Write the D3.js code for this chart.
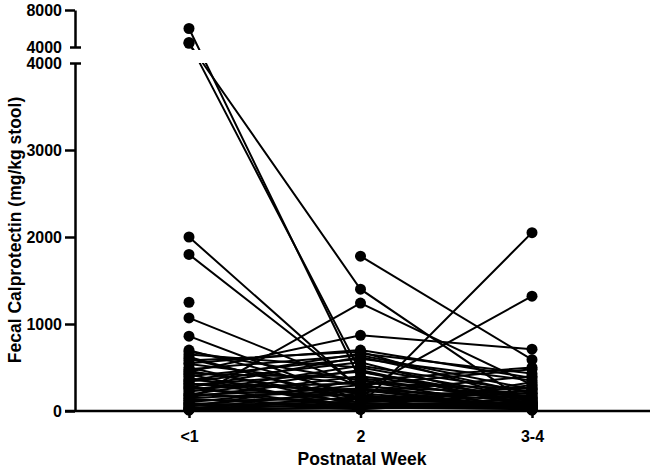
<!DOCTYPE html>
<html>
<head>
<meta charset="utf-8">
<script src="https://cdn.jsdelivr.net/npm/d3@7"></script>
<style>
  html, body { margin: 0; padding: 0; background: #fff; }
  svg text { font-family: Arial, "Liberation Sans", sans-serif; font-weight: bold; fill: #000; }
</style>
</head>
<body>
<svg id="chart" width="653" height="468"></svg>
<script>
// ---- data ----
const weeks = ["<1", "2", "3-4"];
// one value per subject at each week (mg/kg stool); null = not sampled
const week1 = [6000, 4500, 4400, 2000, 1800, 1250, 1070, 860, 700, null, 125, 450, 80, 150,
  650, 620, 580, 540, 500, 480, 460, 430, 400, 380, 360, 340, 320, 300, 280, 260, 240, 220,
  200, 180, 160, 140, 120, 100, 90, 75, 60, 50, 40, 30, 25, 20, 15, 10, 680, 550, 350, 270,
  600, 420, 190, 310];
const week2 = [350, 450, 1400, 250, 260, null, 280, 120, 180, 1780, 1240, 870, 70, 230,
  500, 90, 680, 300, 60, 640, 150, 380, 600, 40, 210, 560, 100, 450, 30, 320, 170, 520,
  80, 260, 400, 50, 140, 300, 20, 200, 110, 350, 60, 160, 30, 250, 90, 40, 350, 700, 660, 620,
  130, 20, 470, 240];
const week34 = [120, 80, 60, 150, 100, null, 200, 90, 60, 590, 300, 710, 2050, 1320,
  150, 40, 110, 480, 30, 250, 200, 90, 350, 20, 400, 60, 180, 130, 70, 260, 50, 220,
  100, 30, 160, 300, 80, 40, 120, 60, 240, 20, 90, 50, 150, 10, 70, 30, 500, 380, 430, 200,
  270, 330, 45, 15];
const lowerTicks = [0, 1000, 2000, 3000, 4000];
const upperTicks = [4000, 8000];
const yTitle = "Fecal Calprotectin (mg/kg stool)";
const xTitle = "Postnatal Week";

// ---- layout ----
const svg = d3.select("#chart");
const axisX = 75, baseY = 411;
const x = d3.scalePoint().domain(weeks).range([189, 532]);
const yLow = d3.scaleLinear().domain([0, 4000]).range([baseY, 63]);
const yHigh = d3.scaleLinear().domain([4000, 8000]).range([47, 10]);
const y = v => (v <= 4000 ? yLow(v) : yHigh(v));

const subjects = week1.map((v, i) => [week1[i], week2[i], week34[i]]);

// clip to hide the axis break band
const defs = svg.append("defs");
const cp = defs.append("clipPath").attr("id", "brk");
cp.append("rect").attr("x", 0).attr("y", 0).attr("width", 653).attr("height", yHigh(4000) + 3);
cp.append("rect").attr("x", 0).attr("y", yLow(4000)).attr("width", 653).attr("height", 468);

// ---- lines ----
const line = d3.line()
  .defined(d => d.v != null)
  .x(d => x(d.w))
  .y(d => y(d.v));

const g = svg.append("g").attr("clip-path", "url(#brk)");
g.selectAll("path.subj")
  .data(subjects)
  .join("path")
  .attr("class", "subj")
  .attr("fill", "none")
  .attr("stroke", "#000")
  .attr("stroke-width", 2)
  .attr("d", s => line(s.map((v, j) => ({ w: weeks[j], v }))));

// ---- points ----
const pts = [];
subjects.forEach(s => s.forEach((v, j) => { if (v != null) pts.push({ w: weeks[j], v }); }));
svg.append("g").selectAll("circle")
  .data(pts)
  .join("circle")
  .attr("cx", d => x(d.w))
  .attr("cy", d => y(d.v))
  .attr("r", 5.5)
  .attr("fill", "#000");

// ---- y axes (broken) ----
function styleAxis(sel) {
  sel.select(".domain").attr("stroke", "#000").attr("stroke-width", 2.5);
  sel.selectAll(".tick line").attr("stroke", "#000").attr("stroke-width", 2.5);
  sel.selectAll(".tick text").attr("font-size", 16).attr("fill", "#000")
    .style("font-family", "Arial, 'Liberation Sans', sans-serif").style("font-weight", "bold");
}
const gLow = svg.append("g").attr("transform", `translate(${axisX},0)`)
  .call(d3.axisLeft(yLow).tickValues(lowerTicks).tickSize(10).tickSizeOuter(0).tickPadding(3).tickFormat(d3.format("d")));
styleAxis(gLow);
const gHigh = svg.append("g").attr("transform", `translate(${axisX},0)`)
  .call(d3.axisLeft(yHigh).tickValues(upperTicks).tickSize(10).tickSizeOuter(0).tickPadding(3).tickFormat(d3.format("d")));
styleAxis(gHigh);
// break caps at 4000
[gLow, gHigh].forEach(ga => {
  ga.selectAll(".tick").filter(d => d === 4000).select("line").attr("x1", -5).attr("x2", 6);
});

// ---- x axis ----
const gx = svg.append("g").attr("transform", `translate(0,${baseY})`)
  .call(d3.axisBottom(x).tickSize(7).tickSizeOuter(0).tickPadding(13));
gx.select(".domain").attr("d", `M65,0H650`).attr("stroke", "#000").attr("stroke-width", 2.5);
gx.selectAll(".tick line").attr("stroke", "#000").attr("stroke-width", 2.5);
gx.selectAll(".tick text").attr("font-size", 16).attr("fill", "#000")
  .style("font-family", "Arial, 'Liberation Sans', sans-serif").style("font-weight", "bold");

// ---- titles ----
svg.append("text")
  .attr("x", 362).attr("y", 465)
  .attr("text-anchor", "middle")
  .attr("font-size", 17.5)
  .text(xTitle);
svg.append("text")
  .attr("transform", "translate(21,230) rotate(-90)")
  .attr("text-anchor", "middle")
  .attr("font-size", 17.5)
  .text(yTitle);
</script>
</body>
</html>
